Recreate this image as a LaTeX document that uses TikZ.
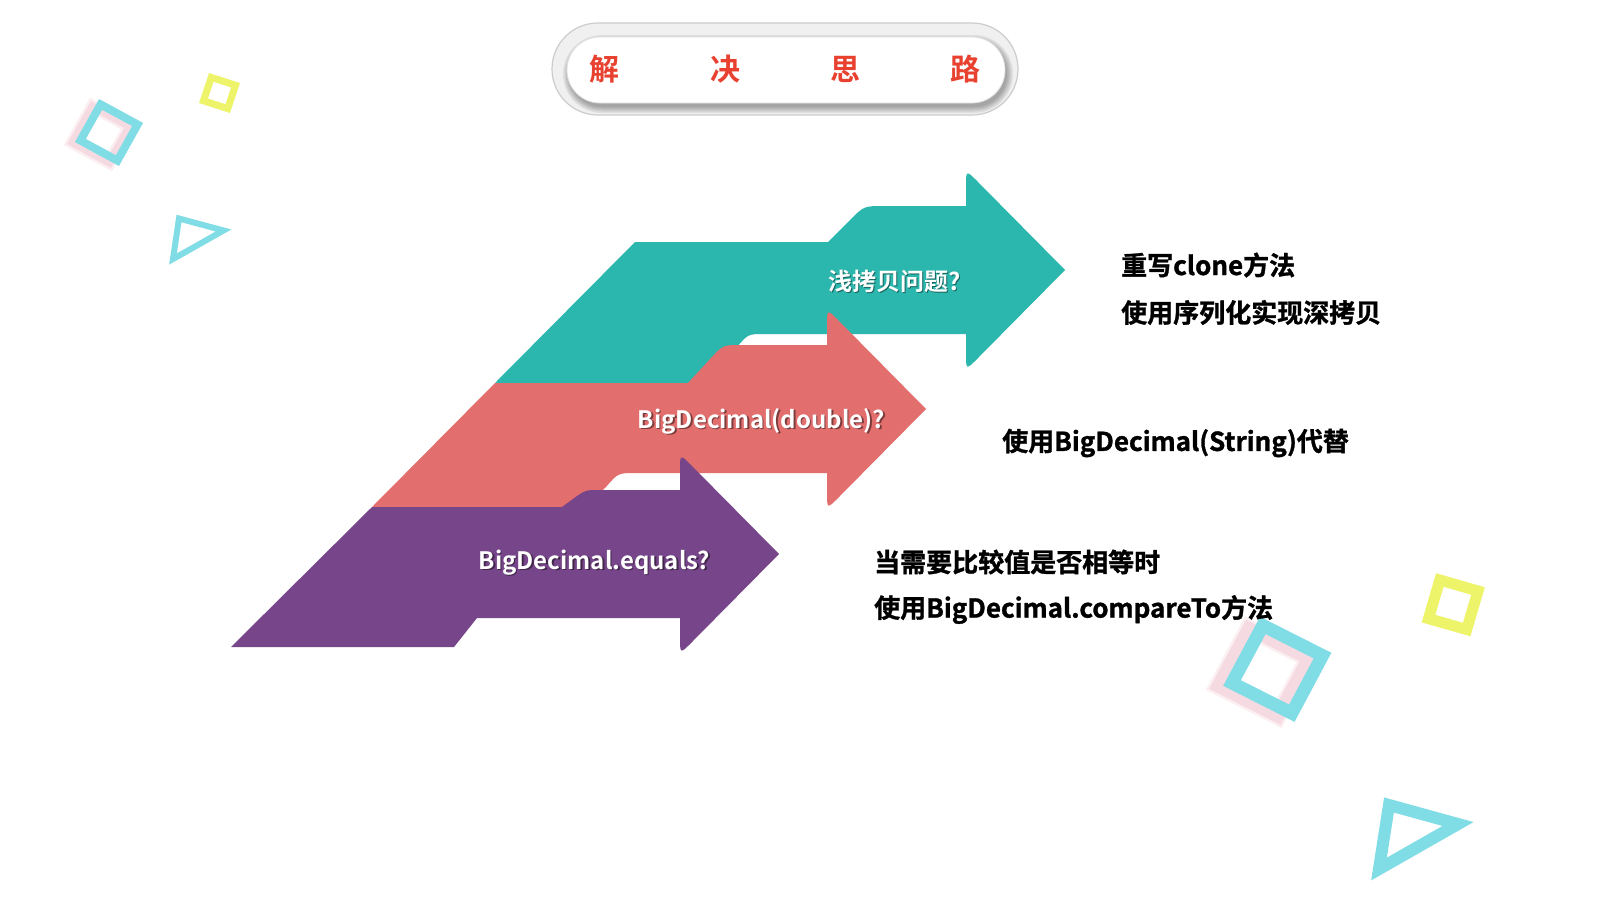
\documentclass[tikz,border=0pt]{standalone}
\usepackage{fontspec}
\setmainfont{Noto Sans CJK SC}[BoldFont={* Bold}]
\newfontfamily\heavy{Noto Sans CJK SC}[BoldFont={* Bold},BoldFeatures={FakeBold=1.2}]
\definecolor{tealA}{HTML}{2BB7AD}
\definecolor{salmonA}{HTML}{E36E6E}
\definecolor{purpleA}{HTML}{77458A}
\definecolor{titleRed}{HTML}{E8412F}
\definecolor{decoCyan}{HTML}{80DDE5}
\definecolor{decoYellow}{HTML}{EEF46A}
\definecolor{decoPink}{HTML}{F5D2DC}
\tikzset{
  deco/.style={line join=miter, line cap=butt},
  lbl/.style={anchor=base, text=white, font=\bfseries\fontsize{24}{28}\selectfont, inner sep=0pt},
  lblsh/.style={anchor=base, text=black, text opacity=0.45, font=\bfseries\fontsize{24}{28}\selectfont, inner sep=0pt},
  note/.style={anchor=west, inner sep=0pt, font=\heavy\bfseries\fontsize{26}{30}\selectfont, text=black},
  ttl/.style={text=titleRed, font=\bfseries\fontsize{30}{34}\selectfont, inner sep=0pt},
}
\begin{document}
\begin{tikzpicture}[x=1pt,y=-1pt]
\useasboundingbox (0,0) rectangle (1600,900);
\fill[white] (0,0) rectangle (1600,900);

% ---------- title pill ----------
\fill[gray!12, rounded corners=45.9] (552,23) rectangle (1018,115);
\draw[gray!40, line width=1.2pt, rounded corners=45.9] (552,23) rectangle (1018,115);
\foreach \s in {0,1.5,3,4.5,6}{
  \pgfmathsetmacro{\rr}{32.9+\s}
  \fill[black, opacity=0.07, rounded corners=\rr] (567-\s+2,37-\s+4) rectangle (1005+\s+2,103+\s+4);
}
\fill[white, rounded corners=32.9] (567,37) rectangle (1005,103);
\draw[gray!25, line width=0.8pt, rounded corners=32.9] (567,37) rectangle (1005,103);
\node[ttl] (t1) at (604,69) {解};
\node[ttl] (t2) at (725,69) {决};
\node[ttl] (t3) at (845,69) {思};
\node[ttl] (t4) at (965,69) {路};

% ---------- decorations ----------
\draw[decoPink, opacity=0.35, line width=13pt, deco] (92.6,106.4) -- (129.6,126.5) -- (109.4,162.6) -- (72.4,142.5) -- cycle;
\draw[decoPink, opacity=0.7, line width=8pt, deco] (92.6,106.4) -- (129.6,126.5) -- (109.4,162.6) -- (72.4,142.5) -- cycle;
\draw[decoCyan, line width=8pt, deco] (100.6,104.4) -- (137.6,124.5) -- (117.4,160.6) -- (80.4,140.5) -- cycle;
\draw[decoYellow, line width=7pt, deco] (211.3,77.4) -- (235.5,85.2) -- (227.7,108.6) -- (203.5,100.8) -- cycle;
\draw[decoCyan, line width=6pt, deco] (179,218.5) -- (223.5,230.5) -- (173,259) -- cycle;

\draw[decoYellow, line width=11pt, deco] (1439.8,580) -- (1478,591) -- (1466.7,629.5) -- (1428.5,618.6) -- cycle;
\draw[decoPink, opacity=0.35, line width=18pt, deco] (1248.8,628.4) -- (1308.5,658.6) -- (1277.8,716.2) -- (1218,686) -- cycle;
\draw[decoPink, opacity=0.7, line width=13pt, deco] (1248.8,628.4) -- (1308.5,658.6) -- (1277.8,716.2) -- (1218,686) -- cycle;
\draw[decoCyan, line width=13pt, deco] (1262.8,625.4) -- (1322.5,655.6) -- (1291.8,713.2) -- (1232,683) -- cycle;
\draw[decoCyan, line width=12pt, deco] (1389,805) -- (1458,824) -- (1379,869) -- cycle;

% ---------- arrows ----------
\fill[tealA] (495,383) -- (635,242) -- (828,242) -- (850,220) .. controls (864,206) .. (884,206)
  -- (966,206) -- (966,187) .. controls (966,170) .. (977,181) -- (1065,270) -- (977,359)
  .. controls (966,370) .. (966,353) -- (966,334) -- (765,334) .. controls (748,334) .. (737,347)
  -- (705,383) -- cycle;
\fill[salmonA] (372,507) -- (495,383) -- (688,383) -- (711,358) .. controls (723,345) .. (742,345)
  -- (827,345) -- (827,326) .. controls (827,309) .. (838,320) -- (926,409) -- (838,498)
  .. controls (827,509) .. (827,492) -- (827,473) -- (636,473) .. controls (618,473) .. (606,487)
  -- (585,507) -- cycle;
\fill[purpleA] (231,647) -- (372,507) -- (562,507) -- (577,496) .. controls (586,490) .. (600,490)
  -- (680,490) -- (680,471) .. controls (680,454) .. (691,465) -- (779,554) -- (691,643)
  .. controls (680,654) .. (680,637) -- (680,618) -- (477,618) -- (454,647) -- cycle;

% ---------- arrow labels ----------
\node[lblsh] (l1s) at (896,291.5) {浅拷贝问题?};
\node[lbl] (l1) at (894.5,290) {浅拷贝问题?};
\node[lblsh] (l2s) at (763,429.5) {BigDecimal(double)?};
\node[lbl] (l2) at (761.5,428) {BigDecimal(double)?};
\node[lblsh] (l3s) at (596,570.5) {BigDecimal.equals?};
\node[lbl] (l3) at (594.5,569) {BigDecimal.equals?};

% ---------- notes ----------
\node[note] (n1) at (1121,265) {重写clone方法};
\node[note] (n2) at (1121,312.5) {使用序列化实现深拷贝};
\node[note] (n3) at (1002,443) {使用BigDecimal(String)代替};
\node[note] (n4) at (874,562) {当需要比较值是否相等时};
\node[note] (n5) at (874,609.5) {使用BigDecimal.compareTo方法};
\end{tikzpicture}
\end{document}
